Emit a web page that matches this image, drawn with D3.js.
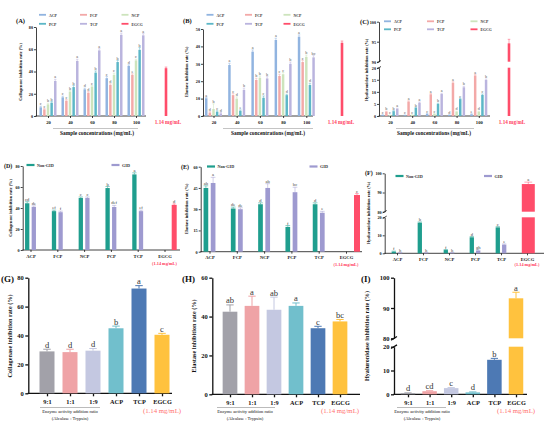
<!DOCTYPE html>
<html><head><meta charset="utf-8">
<script src="https://cdn.jsdelivr.net/npm/d3@7"></script>
<style>body{margin:0;background:#fff}svg{display:block}</style>
</head><body><svg id="c" width="554" height="425"></svg>
<script>
// ================= DATA =================
const concGroups = ["20","40","60","80","100"];
const sampleSeries = ["ACP","FCP","NCP","PCP","TCP"];
const topLegend = ["ACP","FCP","NCP","PCP","TCP","EGCG"];

// (A) collagenase vs concentration, rows = ACP,FCP,NCP,PCP,TCP
const colConc = [[7.8,16.8,24,34,45],[6,13.8,21,28,37],[10.5,22,26.5,37,50],[12,26,39,48.5,59.5],[31.5,49.5,59,73,72.5]];
const colConcErr = [[1,1,1,1.5,1],[0.8,1,1,1,1],[1,1,1,1.5,1],[1,1.5,1.5,1.5,2],[1.5,1.5,1.5,1.5,1.5]];
const colConcLet = [["c","c","d","c","d"],["c","c","d","d","e"],["b","b","c","c","c"],["b","b","b","b","b"],["a","a","a","a","a"]];
const colConcEGCG = 43;
// (B) elastase vs concentration
const elaConc = [[10.2,29.3,37,43.7,45.6],[2,12,20.7,23,31],[4,10,22,24,34],[2.5,3,10.5,12,17.8],[1.5,15,21.6,30,33.7]];
const elaConcErr = [[0.5,1,1,1,1],[0.5,1,1,1,1],[3,1,1,1,1],[0.5,0.5,1,0.5,1],[0.5,1,1,1,1]];
const elaConcLet = [["a","a","a","a","a"],["d","c","b","c","c"],["b","d","b","c","b"],["c","e","c","d","d"],["d","b","b","b","bc"]];
const elaConcEGCG = 42.1;
// (C) hyaluronidase vs concentration
const hyaConc = [[0.4,0.3,0.8,0.4,0.7],[1.8,6,9,13.8,16.8],[0.3,0.4,0.8,1.8,1.8],[2,3.4,5,7,8.7],[3,5.5,9.1,11.9,14.9]];
const hyaConcErr = [[0.1,0.1,0.2,0.1,0.2],[0.2,0.3,0.3,0.4,0.4],[0.1,0.1,0.2,0.2,0.2],[0.2,0.2,0.3,0.3,0.4],[0.2,0.3,0.3,0.4,0.4]];
const hyaConcLet = [["c","c","c","d","e"],["b","a","a","a","a"],["c","c","c","d","d"],["b","b","b","c","c"],["a","a","a","b","b"]];
const hyaConcEGCG = 94.6;

// (D)-(F) Non-GID vs GID
const gidCats = ["ACP","FCP","NCP","PCP","TCP","EGCG"];
const gidSeries = ["Non-GID","GID"];
const colNonGID = [44.5,37,49.5,59,72];
const colGID = [41,36,49.5,41,37];
const colNonGIDErr = [1.5,1,1,1.5,1.5];
const colGIDErr = [1,1,1,1.5,1];
const colNonGIDLet = ["cd","ef","c","b","a"];
const colGIDLet = ["de","f","c","def","ef"];
const colGIDEGCG = 43, colGIDEGCGLet = "d";

const elaNonGID = [45,30.5,33.5,17.5,33.5];
const elaGID = [48.5,30,45,42,27.5];
const elaNonGIDErr = [1.5,1,1,1,1];
const elaGIDErr = [4,1,3,3.5,1];
const elaNonGIDLet = ["ab","de","d","f","d"];
const elaGIDLet = ["a","de","ab","bc","e"];
const elaGIDEGCG = 40, elaGIDEGCGLet = "c";

const hyaNonGID = [0.9,17,1.8,8.9,14.4];
const hyaGID = [0.3,0.3,0.3,1.5,4.8];
const hyaNonGIDErr = [0.3,0.4,0.3,0.4,0.4];
const hyaGIDErr = [0.1,0.1,0.1,0.3,0.4];
const hyaNonGIDLet = ["f","b","f","d","c"];
const hyaGIDLet = ["h","h","h","gh","e"];
const hyaGIDEGCG = 94.4, hyaGIDEGCGLet = "a";

// (G)-(I) enzyme ratio
const ratioCats = ["9:1","1:1","1:9","ACP","TCP","EGCG"];
const colRatio = [29,28.5,29.5,45,72.5,40.5];
const colRatioErr = [1.5,2,1.5,1.5,2,1];
const colRatioLet = ["d","d","d","b","a","c"];
const elaRatio = [42.5,45.5,43.5,45.5,34,37.5];
const elaRatioErr = [3.5,5,6.5,1.5,1,1];
const elaRatioLet = ["ab","a","ab","a","c","bc"];
const hyaRatio = [0.5,1.3,2.6,0.8,14.5,93.2];
const hyaRatioErr = [0.1,0.2,0.2,0.2,0.6,2];
const hyaRatioLet = ["d","cd","c","d","b","a"];

// ================= STYLE =================
const serif = "'Liberation Serif','Times New Roman',serif";
const topColors = {ACP:"#91b4e0",FCP:"#f3a9a8",NCP:"#cde4bd",PCP:"#5cb7c7",TCP:"#bab4de",EGCG:"#ff4d6a"};
const gidColors = {"Non-GID":"#1f9e8e","GID":"#9e9ad0",EGCG:"#ff4d6a"};
const ratioColors = ["#a2a1a9","#efa3a6","#c4c8e1","#71bfcc","#4d79b4","#ffc23e"];

const svg = d3.select("#c");

function makePanel(cfg){
  const g = svg.append("g");
  const ys = cfg.segs.map(s=>d3.scaleLinear().domain(s.d).range(s.r));
  const yOf = v=>{ for(let i=ys.length-1;i>=0;i--){ if(v>=cfg.segs[i].d[0]||i===0) return ys[i](Math.min(v,cfg.segs[i].d[1])); } };
  const y0 = cfg.segs[0].r[0];
  // y axis segments
  cfg.segs.forEach((s,i)=>{
    const ax = d3.axisLeft(ys[i]).tickValues(cfg.ticks[i]).tickSize(cfg.tickLen).tickSizeOuter(0).tickPadding(cfg.tickPad);
    const a = g.append("g").attr("transform",`translate(${cfg.axisX},0)`).call(ax);
    a.select(".domain").attr("stroke","#111").attr("stroke-width",cfg.axisW);
    a.selectAll(".tick line").attr("stroke","#111").attr("stroke-width",cfg.axisW);
    a.selectAll("text").attr("font-family",serif).attr("font-size",cfg.tickFs).attr("font-weight","bold").attr("fill","#111");
  });
  // break marks
  for(let i=0;i<ys.length-1;i++){
    const yl = ys[i](cfg.segs[i].d[1]), yu = ys[i+1](cfg.segs[i+1].d[0]);
    [yl,yu].forEach(yy=>{
      g.append("line").attr("x1",cfg.axisX-cfg.brk).attr("x2",cfg.axisX+cfg.brk)
        .attr("y1",yy+cfg.brk*0.6).attr("y2",yy-cfg.brk*0.6).attr("stroke","#111").attr("stroke-width",cfg.axisW);
    });
  }
  // x axis
  const xs = d3.scalePoint().domain(cfg.cats).range([cfg.x0, cfg.x0+cfg.step*(cfg.cats.length-1)]);
  g.append("line").attr("x1",cfg.axisX-cfg.axisW/2).attr("x2",cfg.xEnd).attr("y1",y0).attr("y2",y0)
    .attr("stroke","#111").attr("stroke-width",cfg.axisW);
  const xa = g.append("g").attr("transform",`translate(0,${y0})`)
    .call(d3.axisBottom(xs).tickSize(cfg.xTickLen).tickSizeOuter(0).tickPadding(cfg.xTickPad));
  xa.select(".domain").remove();
  xa.selectAll(".tick line").attr("stroke","#111").attr("stroke-width",cfg.axisW);
  xa.selectAll("text").attr("font-family",serif).attr("font-size",cfg.xFs).attr("font-weight","bold").attr("fill","#111");
  if(cfg.hideTick) xa.selectAll(".tick").filter(d=>cfg.hideTick.includes(d)).select("line").remove();
  // y title
  g.append("text").attr("transform",`translate(${cfg.yTitleX},${cfg.yTitleY}) rotate(-90)`)
    .attr("text-anchor","middle").attr("font-family",serif).attr("font-weight","bold")
    .attr("font-size",cfg.yTitleFs).attr("fill","#111").text(cfg.yTitle);
  // panel label
  g.append("text").attr("x",cfg.labX).attr("y",cfg.labY).attr("font-family",serif).attr("font-weight","bold")
    .attr("font-size",cfg.labFs).attr("fill","#111").text(cfg.label);

  const api = {
    bar(x,w,v,color){
      cfg.segs.forEach((s,i)=>{
        if(v>s.d[0]){
          const top=ys[i](Math.min(v,s.d[1])), bot=ys[i](s.d[0]);
          g.append("rect").attr("x",x-w/2).attr("y",top).attr("width",w).attr("height",Math.max(0.35,bot-top)).attr("fill",color);
        }
      });
    },
    err(x,w,v,e,color,sw){
      if(!e) return;
      const yt=yOf(v+e), yb=yOf(v);
      g.append("line").attr("x1",x).attr("x2",x).attr("y1",yb).attr("y2",yt).attr("stroke",color).attr("stroke-width",sw);
      g.append("line").attr("x1",x-w/2).attr("x2",x+w/2).attr("y1",yt).attr("y2",yt).attr("stroke",color).attr("stroke-width",sw);
    },
    letter(x,v,t,fs,gap,color){
      if(!t) return;
      g.append("text").attr("x",x).attr("y",yOf(v)-gap).attr("text-anchor","middle")
        .attr("font-family",serif).attr("font-size",fs).attr("fill",color||"#444").text(t);
    },
    text(x,y,t,opt){
      const el=g.append("text").attr("x",x).attr("y",y).attr("text-anchor",opt.anchor||"middle")
        .attr("font-family",serif).attr("font-size",opt.fs).attr("fill",opt.color||"#111")
        .attr("font-weight",opt.bold?"bold":"normal").text(t);
      return el;
    },
    line(x1,y1,x2,y2,color,sw){
      g.append("line").attr("x1",x1).attr("x2",x2).attr("y1",y1).attr("y2",y2).attr("stroke",color).attr("stroke-width",sw);
    },
    xs, yOf, g
  };
  return api;
}

// ---------- Top row (grouped by concentration) ----------
function topPanel(cfg, vals, errs, lets, egcg){
  const p = makePanel(Object.assign({cats:concGroups, tickLen:2, tickPad:1, axisW:0.8, tickFs:4.2, xTickLen:2, xTickPad:2.5, xFs:4.6,
    yTitleFs:4.3, labFs:6.5, brk:2}, cfg));
  const inner = d3.scaleBand().domain(sampleSeries).range([-cfg.gw/2,cfg.gw/2]).paddingInner(0.32);
  const bw = inner.bandwidth();
  concGroups.forEach((gname,gi)=>{
    sampleSeries.forEach((s,si)=>{
      const cx = p.xs(gname)+inner(s)+bw/2;
      const v = vals[si][gi], e = errs[si][gi];
      p.bar(cx,bw,v,topColors[s]);
      p.err(cx,bw,v,e,topColors[s],0.5);
      p.letter(cx,v+e,lets[si][gi],4.2,0.8,"#555");
    });
  });
  // EGCG
  p.bar(cfg.egcgX,2.6,egcg,topColors.EGCG);
  p.err(cfg.egcgX,2.6,egcg,1,topColors.EGCG,0.5);
  p.text(cfg.noteX,124,"1.14 mg/mL",{fs:5.2,bold:true,color:"#ff3b5c"});
  // group bracket + title
  p.line(cfg.ulX[0],128.5,cfg.ulX[1],128.5,"#888",0.5);
  p.text(cfg.titleX,135,"Sample concentrations (mg/mL)",{fs:5.4,bold:true});
  // legend
  topLegend.forEach((s,i)=>{
    const col=i%3,row=Math.floor(i/3);
    const x=cfg.legX[col], y=cfg.legY[row];
    p.g.append("rect").attr("x",x).attr("y",y-1.6).attr("width",7).attr("height",1.8).attr("fill",topColors[s]);
    p.text(x+10,y+1.2,s,{fs:3.8,bold:true,anchor:"start",color:"#333"});
  });
}

topPanel({segs:[{d:[0,80],r:[116,27]}], ticks:[[0,20,40,60,80]], axisX:36, x0:48, step:22, gw:17, xEnd:146,
  egcgX:166, noteX:168, ulX:[53,138], titleX:97, yTitleX:22, yTitleY:72, yTitle:"Collagenase inhibition rate (%)",
  label:"(A)", labX:16, labY:23, legX:[39,80,121.5], legY:[15.5,24.5]}, colConc, colConcErr, colConcLet, colConcEGCG);

topPanel({segs:[{d:[0,50],r:[116,29]}], ticks:[[0,10,20,30,40,50]], axisX:203, x0:213.5, step:23.2, gw:17, xEnd:313,
  egcgX:342, noteX:341, ulX:[223,313], titleX:268, yTitleX:188, yTitleY:72, yTitle:"Elastase inhibition rate (%)",
  label:"(B)", labX:183, labY:23, legX:[206.5,245,283.5], legY:[15.5,24.5]}, elaConc, elaConcErr, elaConcLet, elaConcEGCG);

topPanel({segs:[{d:[0,20],r:[116,67.7]},{d:[90,100],r:[61.7,21.7]}], ticks:[[0,5,10,15,20],[90,95,100]], axisX:379, x0:390, step:22.2, gw:17, xEnd:490,
  egcgX:509, noteX:512, ulX:[396,474], titleX:434, yTitleX:368, yTitleY:70, yTitle:"Hyaluronidase inhibition rate (%)",
  label:"(C)", labX:360, labY:24, legX:[384,427,470.5], legY:[22,30]}, hyaConc, hyaConcErr, hyaConcLet, hyaConcEGCG);

// ---------- Middle row (Non-GID vs GID) ----------
function midPanel(cfg, non, gid, nonE, gidE, nonL, gidL, egcg, egcgL){
  const p = makePanel(Object.assign({cats:gidCats, tickLen:2, tickPad:1, axisW:0.8, tickFs:4.2, xTickLen:2, xTickPad:2.5, xFs:4.6,
    yTitleFs:4.3, labFs:6, brk:2}, cfg));
  gidCats.slice(0,5).forEach((c,i)=>{
    const cx=p.xs(c);
    [[non,nonE,nonL,"Non-GID",-1],[gid,gidE,gidL,"GID",1]].forEach(([v,e,l,s,sg])=>{
      const x=cx+sg*cfg.off;
      p.bar(x,cfg.bw,v[i],gidColors[s]);
      p.err(x,cfg.bw,v[i],e[i],gidColors[s],0.5);
      p.letter(x,v[i]+e[i],l[i],4.6,0.9,"#444");
    });
  });
  const ex=p.xs("EGCG")+cfg.egOff;
  p.bar(ex,cfg.egW,egcg,gidColors.EGCG);
  p.err(ex,cfg.egW*0.6,egcg,1,gidColors.EGCG,0.5);
  p.letter(ex,egcg+1,egcgL,4.6,0.9,"#444");
  p.text(p.xs("EGCG"),cfg.noteY,"(1.14 mg/mL)",{fs:4.3,bold:true,color:"#ff3b5c"});
  gidSeries.forEach((s,i)=>{
    const x=cfg.legX[i], y=cfg.legY;
    p.g.append("rect").attr("x",x).attr("y",y-1.6).attr("width",8).attr("height",2.2).attr("fill",gidColors[s]);
    p.text(x+10.5,y+1.2,s,{fs:4.2,bold:true,anchor:"start",color:"#333"});
  });
}

midPanel({segs:[{d:[0,80],r:[250,166]}], ticks:[[0,20,40,60,80]], axisX:22.7, x0:30.5, step:26.8, off:3.3, bw:4.3, xEnd:180,
  egOff:9.7, egW:5, noteY:264.5, yTitleX:12, yTitleY:208, yTitle:"Collagenase inhibition rate (%)",
  label:"(D)", labX:4, labY:168, legX:[26.5,111.5], legY:165.5},
  colNonGID, colGID, colNonGIDErr, colGIDErr, colNonGIDLet, colGIDLet, colGIDEGCG, colGIDEGCGLet);

midPanel({segs:[{d:[0,60],r:[251.7,166.7]}], ticks:[[0,15,30,45,60]], axisX:200.7, x0:209.5, step:27.3, off:3.6, bw:4.7, xEnd:362,
  egOff:11, egW:6, noteY:265.5, yTitleX:188, yTitleY:209, yTitle:"Elastase inhibition rate (%)",
  label:"(E)", labX:181, labY:169, legX:[207,309.5], legY:167},
  elaNonGID, elaGID, elaNonGIDErr, elaGIDErr, elaNonGIDLet, elaGIDLet, elaGIDEGCG, elaGIDEGCGLet);

midPanel({segs:[{d:[0,20],r:[253.3,217.3]},{d:[80,100],r:[211.7,173.3]}], ticks:[[0,10,20],[80,90,100]], axisX:384.7, x0:397, step:26, off:3.2, bw:4.3, xEnd:544,
  egOff:1.3, egW:13, noteY:266, yTitleX:370, yTitleY:213, yTitle:"Hyaluronidase inhibition rate (%)",
  label:"(F)", labX:365, labY:175, legX:[395.5,484], legY:176.5},
  hyaNonGID, hyaGID, hyaNonGIDErr, hyaGIDErr, hyaNonGIDLet, hyaGIDLet, hyaGIDEGCG, hyaGIDEGCGLet);

// ---------- Bottom row (enzyme ratio) ----------
function botPanel(cfg, vals, errs, lets){
  const p = makePanel(Object.assign({cats:ratioCats, tickLen:3, tickPad:1.5, axisW:1.3, tickFs:6.5, xTickLen:3, xTickPad:3, xFs:6.3,
    yTitleFs:6.2, labFs:9, brk:3}, cfg));
  ratioCats.forEach((c,i)=>{
    const cx=p.xs(c);
    p.bar(cx,cfg.bw,vals[i],ratioColors[i]);
    p.err(cx,cfg.bw*0.5,vals[i],errs[i],ratioColors[i],1);
    p.letter(cx,vals[i]+errs[i],lets[i],8.5,1.5,"#333");
  });
  p.text(p.xs("EGCG"),412.5,"(1.14 mg/mL)",{fs:6.8,color:"#ff7070"});
  p.line(cfg.ulX[0],407.5,cfg.ulX[1],407.5,"#777",0.5);
  p.text(cfg.subX,413,"Enzyme activity addition ratio",{fs:4.6});
  p.text(cfg.subX,420,"(Alcalase : Trypsin)",{fs:4.6});
}

botPanel({segs:[{d:[0,80],r:[393.3,277.7]}], ticks:[[0,20,40,60,80]], axisX:28.3, x0:47, step:23, bw:15, xEnd:172,
  ulX:[40,100], subX:70, yTitleX:12, yTitleY:336, yTitle:"Collagenase inhibition rate (%)",
  label:"(G)", labX:1, labY:282}, colRatio, colRatioErr, colRatioLet);

botPanel({segs:[{d:[0,60],r:[394.3,277.7]}], ticks:[[0,20,40,60]], axisX:212.3, x0:230, step:22, bw:14.7, xEnd:360,
  ulX:[217,275], subX:245, yTitleX:196, yTitleY:336, yTitle:"Elastase inhibition rate (%)",
  label:"(H)", labX:182, labY:282}, elaRatio, elaRatioErr, elaRatioLet);

botPanel({segs:[{d:[0,20],r:[394.3,346.7]},{d:[80,100],r:[338.3,277.7]}], ticks:[[0,10,20],[80,90,100]], axisX:394, x0:408, step:21.6, bw:14.5, xEnd:527,
  ulX:[397,446], subX:422, yTitleX:369, yTitleY:336, yTitle:"Hyaluronidase inhibition rate (%)",
  label:"(I)", labX:361, labY:282}, hyaRatio, hyaRatioErr, hyaRatioLet);
</script>
</body></html>
